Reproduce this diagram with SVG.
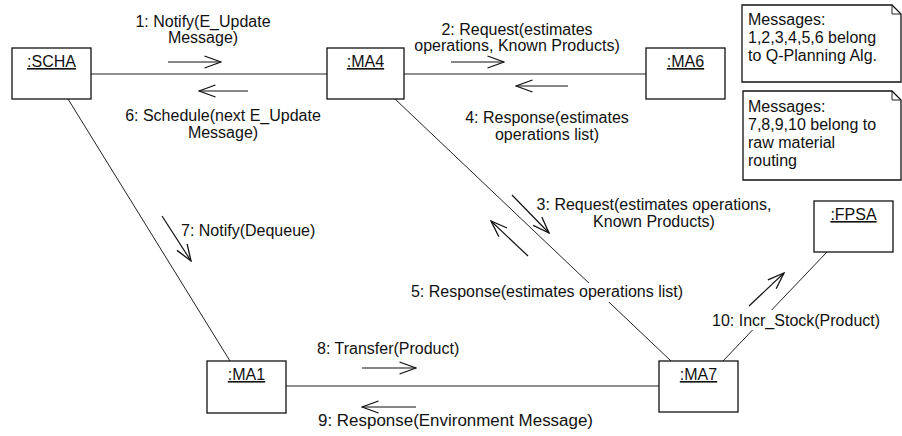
<svg xmlns="http://www.w3.org/2000/svg" width="902" height="436" viewBox="0 0 902 436">
<defs>
<marker id="open" viewBox="0 0 18 14" markerWidth="18" markerHeight="14" refX="17" refY="7" orient="auto" markerUnits="userSpaceOnUse">
<path d="M0.5,1 L17,7 L0.5,13" fill="none" stroke="#111" stroke-width="1.3"/>
</marker>
<style>
text{font-family:"Liberation Sans",Arial,sans-serif;font-size:16px;fill:#111}
.c{text-anchor:middle}
.u{text-decoration:underline}
.box{fill:#fff;stroke:#111;stroke-width:1.3}
.ln{stroke:#222;stroke-width:1;fill:none}
.msg{stroke:#111;stroke-width:1.2;fill:none;marker-end:url(#open)}
.bg{fill:#fff}
</style>
</defs>
<rect width="902" height="436" fill="#fff"/>
<g id="connectors">
<line class="ln" x1="91" y1="74" x2="327" y2="74"/>
<line class="ln" x1="404" y1="74" x2="646" y2="74"/>
<line class="ln" x1="68" y1="99" x2="230" y2="361"/>
<line class="ln" x1="395" y1="99" x2="671" y2="361"/>
<line class="ln" x1="286" y1="386" x2="659" y2="386"/>
<line class="ln" x1="723" y1="361" x2="827" y2="252"/>
<line class="msg" x1="168" y1="62" x2="221" y2="62"/>
<line class="msg" x1="248" y1="91" x2="199" y2="91"/>
<line class="msg" x1="451" y1="62" x2="504" y2="62"/>
<line class="msg" x1="568" y1="86" x2="516" y2="86"/>
<line class="msg" x1="512" y1="195" x2="549" y2="233"/>
<line class="msg" x1="528" y1="256" x2="491" y2="221"/>
<line class="msg" x1="162" y1="216" x2="191" y2="261"/>
<line class="msg" x1="362" y1="368" x2="416" y2="368"/>
<line class="msg" x1="416" y1="407" x2="362" y2="407"/>
<line class="msg" x1="749" y1="306" x2="784" y2="273"/>
</g>
<g id="labels">
<text class="c" x="203" y="27">1: Notify(E_Update</text>
<text class="c" x="203" y="43">Message)</text>
<text class="c" x="517" y="35">2: Request(estimates</text>
<text class="c" x="517" y="51">operations, Known Products)</text>
<text class="c" x="223" y="121">6: Schedule(next E_Update</text>
<text class="c" x="223" y="138">Message)</text>
<text class="c" x="547" y="123">4: Response(estimates</text>
<text class="c" x="547" y="140">operations list)</text>
<text class="c" x="654" y="210">3: Request(estimates operations,</text>
<text class="c" x="654" y="227">Known Products)</text>
<text x="181" y="236">7: Notify(Dequeue)</text>
<rect class="bg" x="409" y="283" width="278" height="19"/>
<text class="c" x="547" y="297">5: Response(estimates operations list)</text>
<rect class="bg" x="710" y="310" width="176" height="20"/>
<text x="712" y="326">10: Incr_Stock(Product)</text>
<text x="317" y="354">8: Transfer(Product)</text>
<text x="318" y="426" textLength="275" lengthAdjust="spacingAndGlyphs">9: Response(Environment Message)</text>
</g>
<g id="SCHA"><rect class="box" x="12" y="48" width="79" height="51"/><text class="c u" x="51.5" y="67">:SCHA</text></g>
<g id="MA4"><rect class="box" x="327" y="48" width="77" height="51"/><text class="c u" x="365.5" y="67">:MA4</text></g>
<g id="MA6"><rect class="box" x="646" y="48" width="79" height="51"/><text class="c u" x="685.5" y="67">:MA6</text></g>
<g id="FPSA"><rect class="box" x="814" y="201" width="79" height="51"/><text class="c u" x="853.5" y="220">:FPSA</text></g>
<g id="MA1"><rect class="box" x="207" y="361" width="79" height="52"/><text class="c u" x="246.5" y="380">:MA1</text></g>
<g id="MA7"><rect class="box" x="659" y="361" width="79" height="51"/><text class="c u" x="698.5" y="380">:MA7</text></g>
<g id="note1">
<path class="box" d="M742,5 H892 L901,14 V82 H742 Z"/>
<path class="ln" d="M892,5 V14 H901"/>
<text x="748" y="25">Messages:</text>
<text x="748" y="43">1,2,3,4,5,6 belong</text>
<text x="748" y="61">to Q-Planning Alg.</text>
</g>
<g id="note2">
<path class="box" d="M743,91 H892 L901,100 V180 H743 Z"/>
<path class="ln" d="M892,91 V100 H901"/>
<text x="748" y="112">Messages:</text>
<text x="748" y="130">7,8,9,10 belong to</text>
<text x="748" y="148">raw material</text>
<text x="748" y="166">routing</text>
</g>
</svg>
